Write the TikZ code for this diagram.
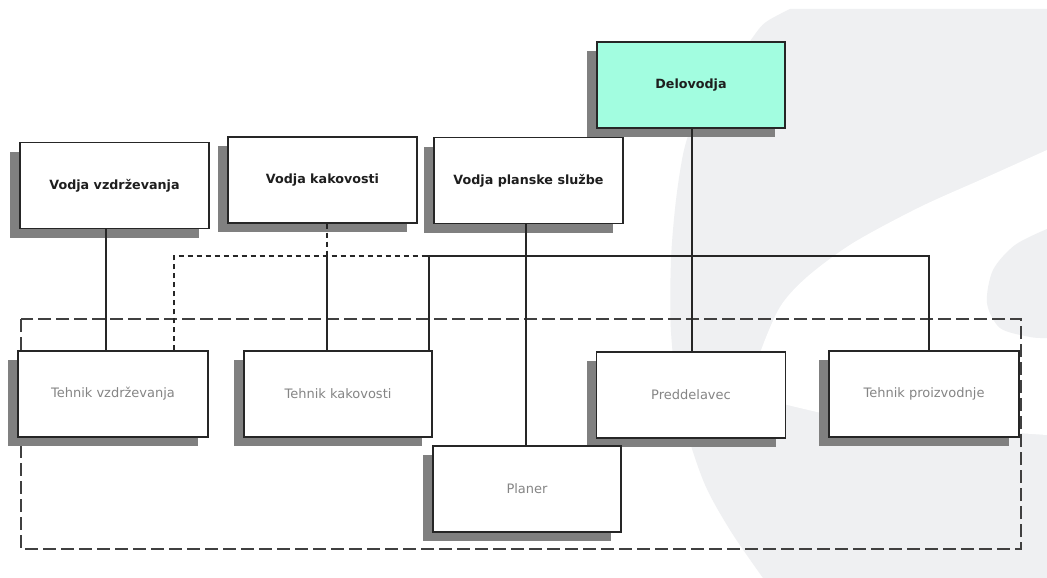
\documentclass[tikz,border=0pt]{standalone}
\usepackage{fontspec}
\setmainfont{DejaVu Sans}
\usetikzlibrary{shadows}
\definecolor{bglogo}{HTML}{EFF0F2}
\definecolor{mint}{HTML}{A2FDE0}
\definecolor{shade}{HTML}{808080}
\definecolor{lowtext}{HTML}{858585}
\definecolor{hitext}{HTML}{1E1E1E}
\begin{document}
\begin{tikzpicture}[x=1pt,y=-1pt,
  box/.style={draw=black!85, line width=1.3pt, fill=white, minimum width=189pt,
    minimum height=86pt, inner sep=0pt,
    drop shadow={shadow xshift=-10pt, shadow yshift=-9pt, fill=shade, opacity=1}},
  boss/.style={box, font=\bfseries\fontsize{12.7}{14}\selectfont, text=hitext},
  staff/.style={box, font=\fontsize{13}{15}\selectfont, text=lowtext},
  link/.style={line width=1.2pt, draw=black!85},
  dotlink/.style={link, dash pattern=on 5pt off 4pt},
  groupframe/.style={line width=1.3pt, draw=black!75, dash pattern=on 13pt off 5pt}]
\useasboundingbox (0,0) rectangle (1047,578);
\fill[white] (0,0) rectangle (1047,578);
% background logo
\fill[bglogo] (1047,9) -- (790,9) -- plot[smooth] coordinates {(790,9) (766,22) (753,37) (720,85) (695,120) (684,150) (676,200) (671,260) (671,332) (680,406) (703,480) (730,530) (763,578)} -- (1047,578) -- cycle;
\fill[white] plot[smooth] coordinates {(752,385) (760,353) (780,307) (807,277) (853,243) (920,207) (987,177) (1047,150)} -- (1047,435) -- plot[smooth] coordinates {(1047,435) (950,428) (850,418) (800,408) (765,398) (752,385)} -- cycle;
\fill[bglogo] plot[smooth] coordinates {(1047,229) (1015,245) (993,270) (987,303) (1000,328) (1030,337) (1047,338)} -- cycle;
% group frame
\draw[groupframe] (21,319) rectangle (1021,549);
% nodes
\node[boss, fill=mint, minimum width=188pt] (dv) at (691,85) {Delovodja};
\node[boss] (vv) at (114.5,185.5) {Vodja vzdrževanja};
\node[boss] (vk) at (322.5,180) {Vodja kakovosti};
\node[boss] (vp) at (528.5,180.5) {Vodja planske službe};
\node[staff, minimum width=190pt] (tv) at (113,394) {Tehnik vzdrževanja};
\node[staff, minimum width=188pt] (tk) at (338,394) {Tehnik kakovosti};
\node[staff] (pd) at (691,395) {Preddelavec};
\node[staff, minimum width=190pt] (tp) at (924,394) {Tehnik proizvodnje};
\node[staff, minimum width=188pt] (pl) at (527,489) {Planer};
% helper coordinates
\coordinate (xa) at (106,0);
\coordinate (xb) at (327,0);
\coordinate (xc) at (174,0);
\coordinate (xd) at (429,0);
\coordinate (xe) at (526,0);
\coordinate (xf) at (929,0);
\coordinate (xg) at (692,0);
\coordinate (bl) at (174,256);
\coordinate (bm) at (427,256);
\coordinate (br) at (929,256);
\coordinate (bk) at (327,256);
% connectors
\draw[link] (vv.south -| xa) -- (tv.north -| xa);
\draw[dotlink] (vk.south -| xb) -- (bk);
\draw[link] (bk) -- (tk.north -| xb);
\draw[dotlink] (tv.north -| xc) -- (bl) -- (bm);
\draw[link] (bm) -- (br) -- (tp.north -| xf);
\draw[link] (bm -| xd) -- (tk.north -| xd);
\draw[link] (dv.south -| xg) -- (pd.north -| xg);
\draw[link] (vp.south -| xe) -- (pl.north -| xe);
\end{tikzpicture}
\end{document}
